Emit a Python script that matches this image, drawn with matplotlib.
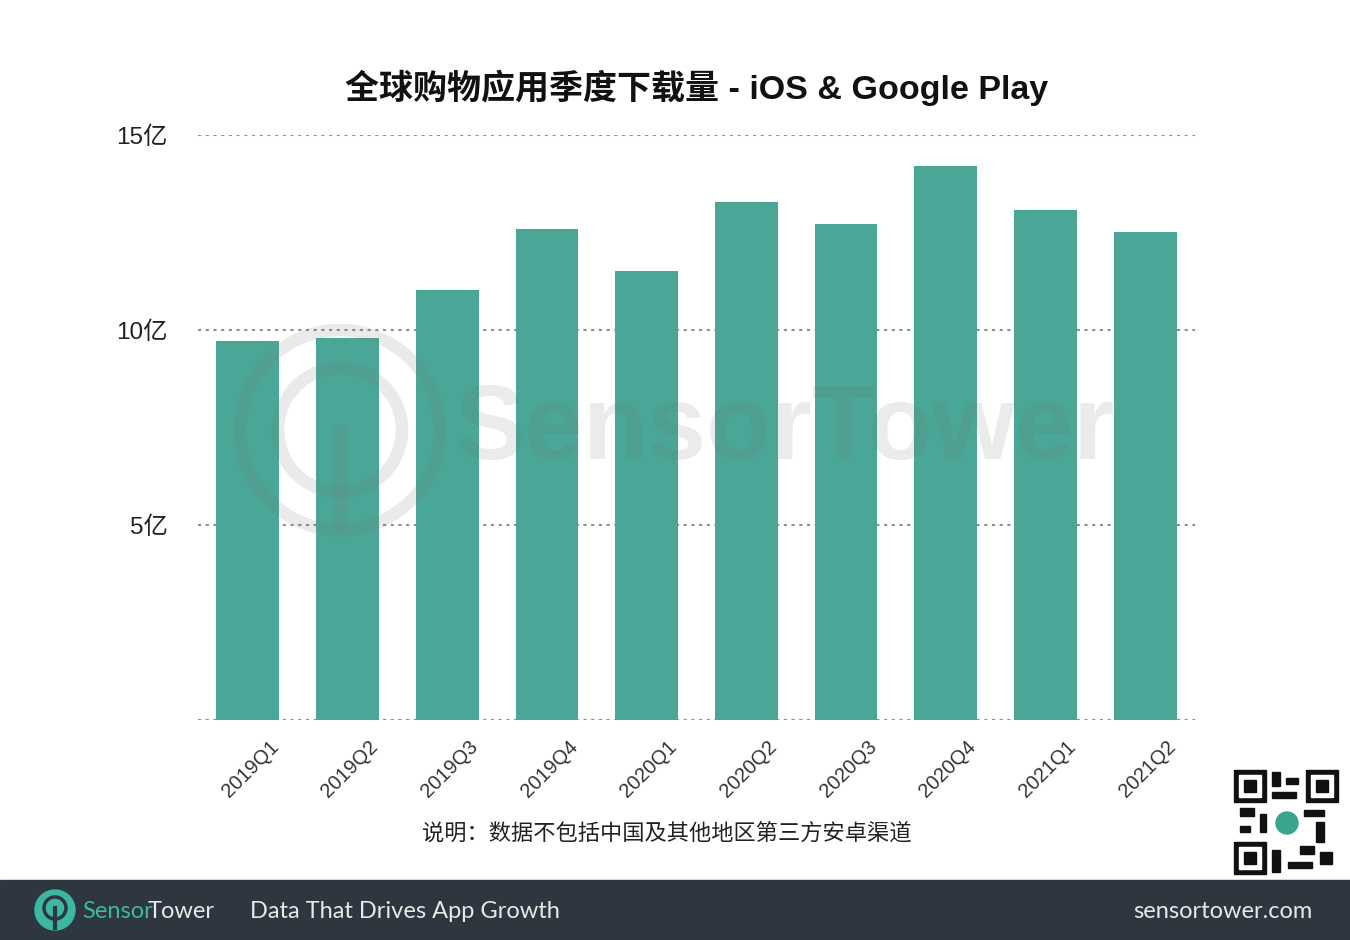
import matplotlib
matplotlib.use("Agg")
import matplotlib.pyplot as plt
from matplotlib.patches import Rectangle, Circle

# data (亿 downloads)
quarters = ["2019Q1", "2019Q2", "2019Q3", "2019Q4", "2020Q1",
            "2020Q2", "2020Q3", "2020Q4", "2021Q1", "2021Q2"]
downloads = [9.72, 9.79, 11.03, 12.59, 11.51, 13.28, 12.72, 14.21, 13.08, 12.51]
yticks = [5, 10, 15]
ytick_labels = ["5亿", "10亿", "15亿"]

title = "全球购物应用季度下载量 - iOS & Google Play"
note = "说明：数据不包括中国及其他地区第三方安卓渠道"

fonts = ["Liberation Sans", "Noto Sans CJK SC", "DejaVu Sans"]
plt.rcParams["font.family"] = fonts

fig = plt.figure(figsize=(13.5, 9.4), dpi=100)

ax = fig.add_axes([198 / 1350, 1 - 720 / 940, 997 / 1350, 585 / 940], zorder=1)
x = list(range(len(quarters)))
ax.bar(x, downloads, width=0.63, color="#4aa797", zorder=2)
ax.set_xlim(-0.5, len(quarters) - 0.5)
ax.set_ylim(0, 15)
for v in [0] + yticks:
    ax.axhline(v, color="#8f8f8f", lw=1.5, ls=(0, (1.5, 2.2)), zorder=1)
ax.set_yticks(yticks)
ax.set_yticklabels(ytick_labels, fontsize=17.5, color="#222222")
ax.set_xticks(x)
ax.set_xticklabels([])
# rotated quarter labels, anchored a bit right of each bar centre
for xi, q in zip(x, quarters):
    ax.annotate(q, (xi, 0), xycoords=("data", "axes fraction"),
                xytext=(15, -12), textcoords="offset points",
                rotation=45, ha="right", va="top", rotation_mode="anchor",
                fontsize=14.5, color="#333333")
ax.tick_params(length=0)
ax.tick_params(axis="y", pad=22)
for s in ax.spines.values():
    s.set_visible(False)

# watermark over the chart
wm = fig.add_axes([0, 0, 1, 1], zorder=2)
wm.set_xlim(0, 1350)
wm.set_ylim(940, 0)
wm.axis("off")
wmc = (0.45, 0.45, 0.45, 0.15)
wm.add_patch(Circle((340, 430), 100, fill=False, lw=9, ec=wmc))
wm.add_patch(Circle((340, 430), 62, fill=False, lw=9, ec=wmc))
wm.plot([340, 340], [432, 525], color=wmc, lw=10, solid_capstyle="round")
wm.text(785, 432, "SensorTower", fontsize=76, fontweight="bold", color=(0.45, 0.45, 0.45, 0.14),
        ha="center", va="center", family=["Liberation Sans"])

fig.text(697 / 1350, 1 - 88 / 940, title, fontsize=24.5, fontweight="bold",
         ha="center", va="center", color="#111111")
fig.text(667 / 1350, 1 - 834 / 940, note, fontsize=16, ha="center", va="center",
         color="#222222")

# footer band
ft = fig.add_axes([0, 0, 1, 1], zorder=3)
ft.set_xlim(0, 1350)
ft.set_ylim(940, 0)
ft.axis("off")
ft.add_patch(Rectangle((0, 880), 1350, 60, color="#2e3640"))
ft.add_patch(Circle((55, 910), 20, color="#3cb8a0"))
ft.add_patch(Circle((55, 908), 11, fill=False, lw=2.5, ec="#2e3640"))
ft.plot([55, 55], [908, 928], color="#2e3640", lw=3)
ft.text(82, 911, "Sensor", fontsize=17, color="#3cb8a0", va="center", family=["Lato"])
ft.text(148, 911, "Tower", fontsize=17, color="#e8e8e8", va="center", family=["Lato"])
ft.text(250, 911, "Data That Drives App Growth", fontsize=17, color="#e8e8e8",
        va="center", family=["Lato"])
ft.text(1312, 912, "sensortower.com", fontsize=17, color="#e8e8e8", va="center",
        ha="right", family=["Lato"])

# QR-code-like mark
ft.add_patch(Rectangle((1232, 768), 108, 108, color="white"))
for qx, qy in [(1234, 770), (1306, 770), (1234, 842)]:
    ft.add_patch(Rectangle((qx, qy), 32, 32, color="#111111"))
    ft.add_patch(Rectangle((qx + 5, qy + 5), 22, 22, color="white"))
    ft.add_patch(Rectangle((qx + 10, qy + 10), 12, 12, color="#111111"))
for bx, by, bw, bh in [(1272, 772, 8, 14), (1286, 778, 12, 6), (1272, 792, 24, 6),
                        (1240, 808, 14, 8), (1260, 814, 6, 18), (1304, 810, 20, 6),
                        (1316, 822, 8, 20), (1300, 846, 14, 8), (1272, 850, 8, 22),
                        (1288, 862, 24, 6), (1320, 852, 12, 12), (1240, 826, 10, 6)]:
    ft.add_patch(Rectangle((bx, by), bw, bh, color="#111111"))
ft.add_patch(Circle((1287, 823), 11, color="#3aa58e"))

fig.savefig("out.png", dpi=100, facecolor="white")
